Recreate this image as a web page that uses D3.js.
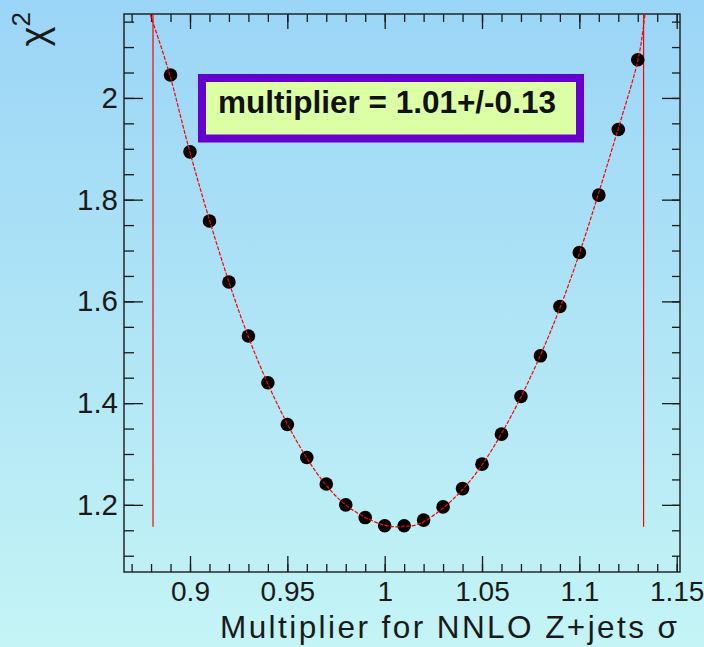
<!DOCTYPE html>
<html>
<head>
<meta charset="utf-8">
<script src="https://cdn.jsdelivr.net/npm/d3@7"></script>
<style>
  html, body { margin: 0; padding: 0; background: #b0e4f6; }
  svg { display: block; font-family: "Liberation Sans", Arial, sans-serif; }
  .axis text { fill: #1a1a1a; }
  .axis line { stroke: #1a1a1a; stroke-width: 1.3; }
  .axis path { display: none; }
</style>
</head>
<body>
<div id="chart"></div>
<script>
// chi2 scan over the NNLO Z+jets cross-section multiplier
const multiplier = [0.89, 0.90, 0.91, 0.92, 0.93, 0.94, 0.95, 0.96, 0.97, 0.98, 0.99, 1.00, 1.01,
  1.02, 1.03, 1.04, 1.05, 1.06, 1.07, 1.08, 1.09, 1.10, 1.11, 1.12, 1.13]
const chi2 = [2.045, 1.894, 1.758, 1.638, 1.532, 1.440, 1.358, 1.293, 1.241, 1.200, 1.175, 1.159, 1.159,
  1.170, 1.196, 1.232, 1.280, 1.339, 1.413, 1.493, 1.590, 1.696, 1.809, 1.938, 2.075]

// fitted curve
const fitX = [0.8795, 0.89, 0.90, 0.92, 0.94, 0.96, 0.98, 1.00, 1.01, 1.02, 1.04, 1.06, 1.08, 1.10, 1.12, 1.13, 1.1337]
const fitChi2 = [2.165, 2.040, 1.893, 1.638, 1.438, 1.292, 1.200, 1.160, 1.158, 1.167, 1.230, 1.340, 1.494, 1.694, 1.940, 2.073, 2.165]

// +/- error lines and chi2 minimum
const errorEdges = [0.881, 1.133]
const chi2Min = 1.157
const fitLabel = "multiplier = 1.01+/-0.13"

const xTicks = [0.9, 0.95, 1, 1.05, 1.1, 1.15]
const xTickLabels = ["0.9", "0.95", "1", "1.05", "1.1", "1.15"]
const xMinorTicks = d3.range(87, 116).map(d => d / 100)
const yTicks = [1.2, 1.4, 1.6, 1.8, 2]
const yTickLabels = ["1.2", "1.4", "1.6", "1.8", "2"]
const yMinorTicks = d3.range(22, 44).map(d => d / 20)

const xDomain = [0.8661, 1.1517]
const yDomain = [1.068, 2.165]

function drawChart() {
  const dimensions = {
    width: 704,
    height: 647,
    margin: { top: 14, right: 24, bottom: 75, left: 124 },
  }
  dimensions.boundedWidth = dimensions.width - dimensions.margin.left - dimensions.margin.right
  dimensions.boundedHeight = dimensions.height - dimensions.margin.top - dimensions.margin.bottom

  const svg = d3.select("#chart").append("svg")
    .attr("width", dimensions.width)
    .attr("height", dimensions.height)

  const defs = svg.append("defs")
  const grad = defs.append("linearGradient")
    .attr("id", "bg")
    .attr("x1", 0).attr("y1", 0).attr("x2", 0).attr("y2", 1)
  grad.append("stop").attr("offset", "0%").attr("stop-color", "#9bd5f7")
  grad.append("stop").attr("offset", "100%").attr("stop-color", "#c4f4f5")
  defs.append("clipPath").attr("id", "frame")
    .append("rect")
    .attr("width", dimensions.boundedWidth)
    .attr("height", dimensions.boundedHeight)

  svg.append("rect")
    .attr("width", dimensions.width)
    .attr("height", dimensions.height)
    .attr("fill", "url(#bg)")

  const bounds = svg.append("g")
    .attr("transform", `translate(${dimensions.margin.left},${dimensions.margin.top})`)

  const xScale = d3.scaleLinear().domain(xDomain).range([0, dimensions.boundedWidth])
  const yScale = d3.scaleLinear().domain(yDomain).range([dimensions.boundedHeight, 0])

  // axes, ROOT style: ticks on all four sides pointing inwards
  const bottom = bounds.append("g").attr("class", "axis")
    .attr("transform", `translate(0,${dimensions.boundedHeight})`)
  bottom.append("g").call(d3.axisBottom(xScale).tickValues(xMinorTicks).tickSizeInner(-8).tickSizeOuter(0).tickFormat(""))
  bottom.append("g").call(d3.axisBottom(xScale).tickValues(xTicks).tickSizeInner(-16).tickSizeOuter(0)
      .tickPadding(9).tickFormat((d, i) => xTickLabels[i]))
    .selectAll("text").style("font-size", "28px")

  const top = bounds.append("g").attr("class", "axis")
  top.append("g").call(d3.axisTop(xScale).tickValues(xMinorTicks).tickSizeInner(-8).tickSizeOuter(0).tickFormat(""))
  top.append("g").call(d3.axisTop(xScale).tickValues(xTicks).tickSizeInner(-15).tickSizeOuter(0).tickFormat(""))

  const left = bounds.append("g").attr("class", "axis")
  left.append("g").call(d3.axisLeft(yScale).tickValues(yMinorTicks).tickSizeInner(-10).tickSizeOuter(0).tickFormat(""))
  left.append("g").call(d3.axisLeft(yScale).tickValues(yTicks).tickSizeInner(-19).tickSizeOuter(0)
      .tickPadding(6).tickFormat((d, i) => yTickLabels[i]))
    .selectAll("text").style("font-size", "29.5px")

  const right = bounds.append("g").attr("class", "axis")
    .attr("transform", `translate(${dimensions.boundedWidth},0)`)
  right.append("g").call(d3.axisRight(yScale).tickValues(yMinorTicks).tickSizeInner(-8).tickSizeOuter(0).tickFormat(""))
  right.append("g").call(d3.axisRight(yScale).tickValues(yTicks).tickSizeInner(-18).tickSizeOuter(0).tickFormat(""))

  bounds.append("rect")
    .attr("width", dimensions.boundedWidth)
    .attr("height", dimensions.boundedHeight)
    .attr("fill", "none")
    .attr("stroke", "#1a1a1a")
    .attr("stroke-width", 1.4)

  const plot = bounds.append("g").attr("clip-path", "url(#frame)")

  // error edges
  plot.selectAll(".edge")
    .data(errorEdges)
    .join("line")
      .attr("class", "edge")
      .attr("x1", d => xScale(d))
      .attr("x2", d => xScale(d))
      .attr("y1", yScale(chi2Min))
      .attr("y2", yScale(yDomain[1]))
      .attr("stroke", "#ff0000")
      .attr("stroke-width", 1.2)

  // data points
  plot.selectAll(".pt")
    .data(multiplier)
    .join("circle")
      .attr("class", "pt")
      .attr("cx", d => xScale(d))
      .attr("cy", (d, i) => yScale(chi2[i]))
      .attr("r", 6.8)
      .attr("fill", "#000")

  // fit curve
  const fitLine = d3.line()
    .x(d => xScale(d[0]))
    .y(d => yScale(d[1]))
    .curve(d3.curveNatural)
  plot.append("path")
    .attr("d", fitLine(fitX.map((x, i) => [x, fitChi2[i]])))
    .attr("fill", "none")
    .attr("stroke", "#ff0000")
    .attr("stroke-width", 1.2)
    .attr("stroke-dasharray", "4 1.5")

  // result box
  svg.append("rect")
    .attr("x", 202)
    .attr("y", 78)
    .attr("width", 378)
    .attr("height", 60.5)
    .attr("fill", "#dcffa6")
    .attr("stroke", "#6600cc")
    .attr("stroke-width", 8)
  svg.append("text")
    .attr("x", 218)
    .attr("y", 113)
    .style("font-size", "31.5px")
    .style("font-weight", "bold")
    .attr("fill", "#111")
    .text(fitLabel)

  // axis titles
  svg.append("text")
    .attr("x", 677)
    .attr("y", 638)
    .attr("text-anchor", "end")
    .attr("textLength", 457)
    .attr("lengthAdjust", "spacing")
    .style("font-size", "31.5px")
    .attr("fill", "#1a1a1a")
    .text("Multiplier for NNLO Z+jets σ")

  const yTitle = svg.append("text")
    .attr("transform", "translate(47,12) rotate(-90)")
    .attr("text-anchor", "end")
    .attr("fill", "#1a1a1a")
  yTitle.append("tspan").style("font-size", "38px").text("χ")
  yTitle.append("tspan").attr("dy", -17).style("font-size", "26px").text("2")
}

drawChart()
</script>
</body>
</html>
